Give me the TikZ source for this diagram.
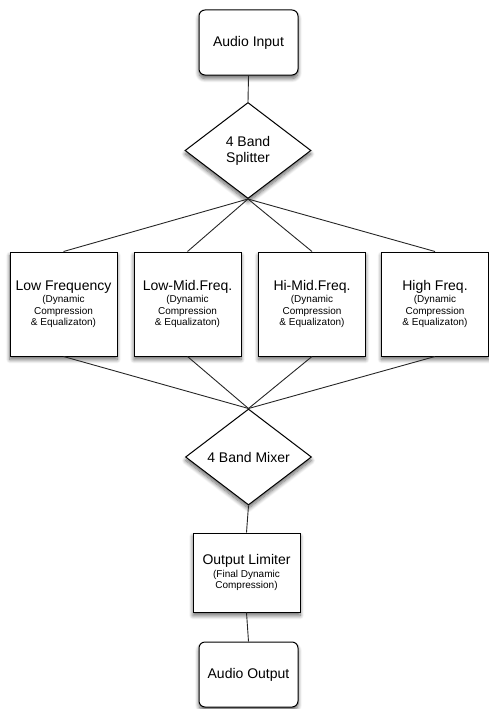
\documentclass[tikz,border=0pt]{standalone}
\usepackage{fontspec}
\setmainfont{Liberation Sans}
\usetikzlibrary{shapes.geometric,shadows.blur}
\newcommand{\ttl}{\fontsize{14}{16}\selectfont}
\newcommand{\sbt}{\fontsize{10}{11.5}\selectfont}
\begin{document}
\begin{tikzpicture}[x=1pt,y=-1pt,
  shd/.style={blur shadow={shadow xshift=0pt,shadow yshift=-3.5pt,shadow blur steps=8,shadow blur radius=4pt,shadow opacity=60}},
  term/.style={draw=black,line width=1pt,fill=white,rounded corners=6pt,minimum width=99pt,minimum height=65pt,inner sep=0pt,font=\ttl,shd},
  band/.style={draw=black,line width=1pt,fill=white,minimum width=107pt,minimum height=104pt,inner sep=0pt,align=center,font=\sbt,shd},
  limbox/.style={draw=black,line width=1pt,fill=white,minimum width=107pt,minimum height=79pt,inner sep=0pt,align=center,font=\sbt,shd},
  dia/.style={diamond,draw=black,line width=1pt,fill=white,minimum width=126pt,minimum height=96pt,inner sep=0pt,align=center,font=\ttl,shd},
  conn/.style={draw=black!85,line width=0.9pt}]
\useasboundingbox (0,0) rectangle (488,709);
\node[term] (in) at (248.5,42.5) {Audio Input};
\node[dia] (split) at (248,150.5) {4 Band\\Splitter};
\node[band] (b1) at (63.5,304) {{\ttl Low Frequency}\\[1pt](Dynamic\\Compression\\\& Equalizaton)};
\node[band] (b2) at (187.5,304) {{\ttl Low-Mid.Freq.}\\[1pt](Dynamic\\Compression\\\& Equalizaton)};
\node[band] (b3) at (312,304) {{\ttl Hi-Mid.Freq.}\\[1pt](Dynamic\\Compression\\\& Equalizaton)};
\node[band] (b4) at (435,304) {{\ttl High Freq.}\\[1pt](Dynamic\\Compression\\\& Equalizaton)};
\node[dia] (mix) at (248.5,457) {4 Band Mixer};
\node[limbox] (lim) at (246.5,572.5) {{\ttl Output Limiter}\\[1pt](Final Dynamic\\Compression)};
\node[term] (out) at (248.5,674.5) {Audio Output};
\draw[conn] (in.south) -- (split.north);
\foreach \b in {b1,b2,b3,b4}{
  \draw[conn] (split.south) -- (\b.north);
  \draw[conn] (\b.south) -- (mix.north);
}
\draw[conn] (mix.south) -- (lim.north);
\draw[conn] (lim.south) -- (out.north);
\end{tikzpicture}
\end{document}
